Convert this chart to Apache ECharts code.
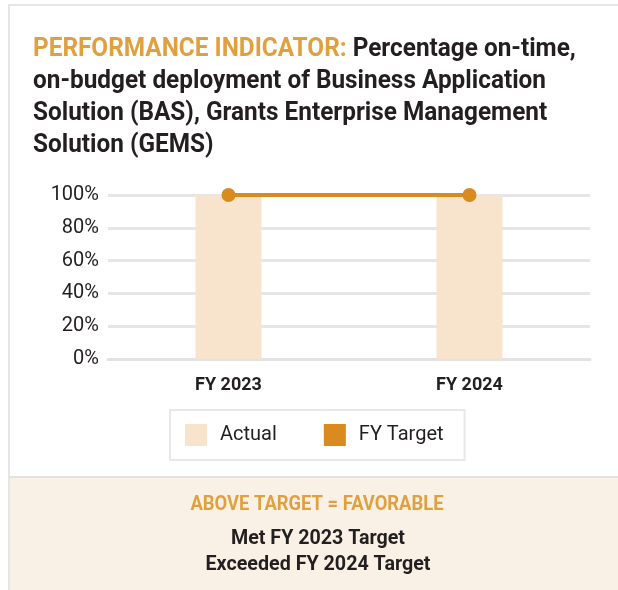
<!DOCTYPE html>
<html>
<head>
<meta charset="utf-8">
<script src="https://cdn.jsdelivr.net/npm/echarts@6/dist/echarts.min.js"></script>
<style>
  html, body { margin: 0; padding: 0; background: #fff; }
  #chart { width: 618px; height: 590px; }
</style>
</head>
<body>
<div id="chart"></div>
<script>
// Chart data
const categories = ["FY 2023", "FY 2024"];
const actualValues = [100, 100];
const targetValues = [100, 100];
const titleLead = "PERFORMANCE INDICATOR:";
const titleLines = [
  "Percentage on-time,",
  "on-budget deployment of Business Application",
  "Solution (BAS), Grants Enterprise Management",
  "Solution (GEMS)"
];
const verdict = "ABOVE TARGET = FAVORABLE";
const summaryLines = ["Met FY 2023 Target", "Exceeded FY 2024 Target"];

const FONT = "Roboto, 'Noto Sans', sans-serif";
const ORANGE_TEXT = "#e1a03f";
const DARK = "#231f20";
const LINE_COLOR = "#d98b1f";
const BAR_COLOR = "#f8e4cc";

// squeeze text horizontally so it looks like the condensed face of the original
const measureCtx = document.createElement("canvas").getContext("2d");
function squeeze(text, font, targetWidth) {
  measureCtx.font = font;
  return targetWidth / measureCtx.measureText(text).width;
}

const titleFont = "bold 26px " + FONT;
const titleScale = squeeze(titleLines[1], titleFont, 513);
const verdictFont = "bold 21px " + FONT;
const sumFont = "bold 20px " + FONT;

const chart = echarts.init(document.getElementById("chart"));

chart.setOption({
  animation: false,
  textStyle: { fontFamily: FONT },
  grid: { left: 108, right: 28, top: 195, bottom: 231 },
  legend: {
    left: 170,
    top: 410,
    padding: [14, 21, 14, 15],
    itemWidth: 22,
    itemHeight: 22,
    itemGap: 47,
    borderColor: "#e8e8e8",
    borderWidth: 2,
    textStyle: { fontFamily: FONT, fontSize: 20, color: DARK, padding: [0, 0, 0, 8] },
    data: [
      { name: "Actual", icon: "rect" },
      { name: "FY Target", icon: "rect" }
    ]
  },
  xAxis: {
    type: "category",
    data: categories,
    axisLine: { show: true, lineStyle: { color: "#e3e3e6", width: 3 } },
    axisTick: { show: false },
    axisLabel: { fontFamily: FONT, fontSize: 18, fontWeight: "bold", color: DARK, margin: 17 }
  },
  yAxis: {
    type: "value",
    min: 0,
    max: 100,
    interval: 20,
    axisLine: { show: false },
    axisTick: { show: false },
    axisLabel: { formatter: "{value}%", fontFamily: FONT, fontSize: 20, color: DARK, margin: 9 },
    splitLine: { lineStyle: { color: "#e6e6e9", width: 3 } }
  },
  series: [
    {
      name: "Actual",
      type: "bar",
      data: actualValues,
      barWidth: 66,
      itemStyle: { color: BAR_COLOR }
    },
    {
      name: "FY Target",
      type: "line",
      data: targetValues,
      symbol: "circle",
      symbolSize: 14,
      lineStyle: { color: LINE_COLOR, width: 4 },
      itemStyle: { color: LINE_COLOR }
    }
  ],
  graphic: [
    // outer frame
    { type: "line", shape: { x1: 8, y1: 5, x2: 618, y2: 5 }, style: { stroke: "#e6e6e6", lineWidth: 2 } },
    { type: "line", shape: { x1: 9, y1: 4, x2: 9, y2: 590 }, style: { stroke: "#e6e6e6", lineWidth: 2 } },
    // title
    {
      type: "text", x: 33, y: 33, scaleX: titleScale,
      style: {
        text: "{o|" + titleLead + "}{b| " + titleLines[0] + "}\n" +
              titleLines.slice(1).map(t => "{b|" + t + "}").join("\n"),
        rich: {
          o: { font: titleFont, fill: ORANGE_TEXT, lineHeight: 32 },
          b: { font: titleFont, fill: DARK, lineHeight: 32 }
        }
      }
    },
    // bottom panel
    { type: "rect", shape: { x: 10, y: 477, width: 608, height: 113 }, style: { fill: "#faf1e6" }, z: -1 },
    { type: "line", shape: { x1: 9, y1: 477, x2: 618, y2: 477 }, style: { stroke: "#e3e3e3", lineWidth: 2 } },
    {
      type: "text", x: 317, y: 505, scaleX: squeeze(verdict, verdictFont, 253),
      style: { text: verdict, fill: ORANGE_TEXT, font: verdictFont, textAlign: "center", textVerticalAlign: "middle" }
    },
    {
      type: "text", x: 318, y: 539, scaleX: squeeze(summaryLines[0], sumFont, 174),
      style: { text: summaryLines[0], fill: DARK, font: sumFont, textAlign: "center", textVerticalAlign: "middle" }
    },
    {
      type: "text", x: 318, y: 565, scaleX: squeeze(summaryLines[1], sumFont, 225),
      style: { text: summaryLines[1], fill: DARK, font: sumFont, textAlign: "center", textVerticalAlign: "middle" }
    }
  ]
});
</script>
</body>
</html>
